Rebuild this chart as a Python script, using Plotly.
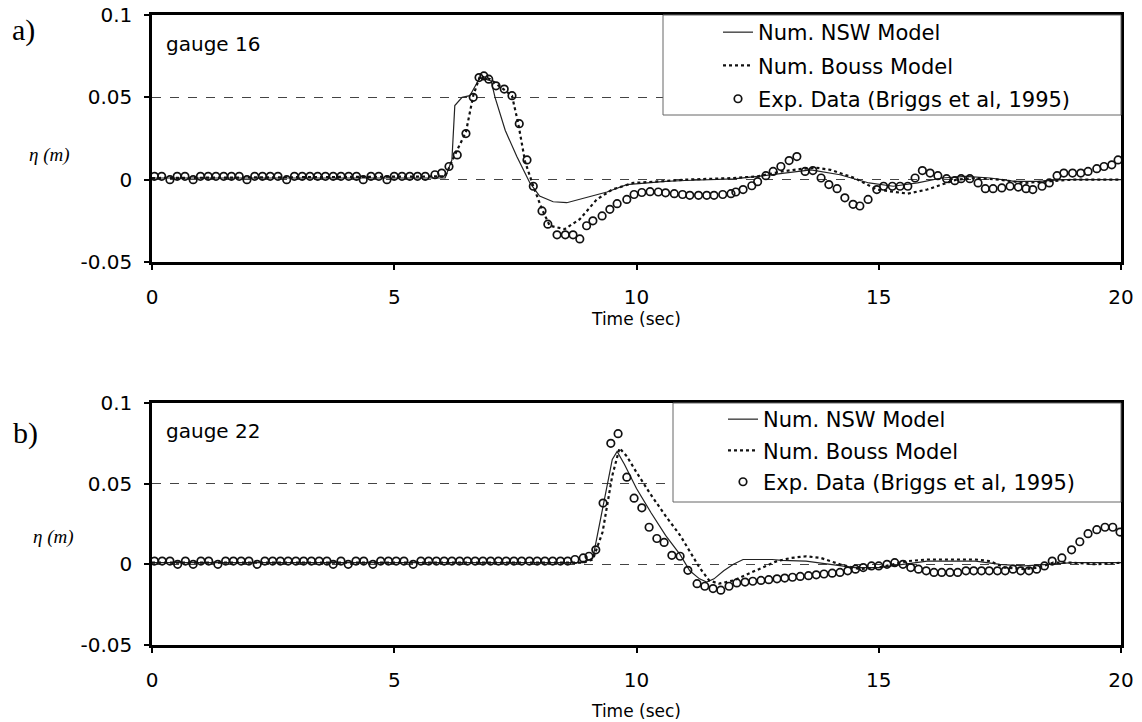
import plotly.graph_objects as go

# ---------------- Panel a) gauge 16 ----------------
nsw_a_t = [0, 6.05, 6.19, 6.25, 6.4, 6.56, 6.77, 7.0, 7.08, 7.29, 7.53, 7.8, 8.0, 8.28, 8.56,
           8.98, 9.39, 9.8, 10.2, 10.6, 11.0, 11.5, 12.0, 12.5, 13.0, 13.6, 14.2, 14.8, 15.3,
           15.8, 16.3, 16.8, 17.3, 17.8, 18.3, 18.8, 19.4, 20.0]
nsw_a_v = [0.001, 0.001, 0.012, 0.045, 0.05, 0.051, 0.062, 0.06, 0.05, 0.03, 0.014, -0.002,
           -0.01, -0.0134, -0.014, -0.0105, -0.0075, -0.003, -0.002, -0.001, -0.0005, 0.0,
           0.0005, 0.002, 0.004, 0.006, 0.003, -0.002, -0.004, -0.002, 0.001, 0.002, 0.001,
           -0.001, -0.001, 0.0, 0.0, 0.0]

bouss_a_t = [0, 6.05, 6.25, 6.48, 6.63, 6.77, 6.98, 7.25, 7.43, 7.56, 7.7, 7.87, 8.05, 8.21,
             8.52, 8.83, 9.18, 9.5, 9.93, 10.5, 11.0, 11.5, 12.0, 12.5, 13.0, 13.4, 13.7, 14.0,
             14.5, 14.96, 15.3, 15.6, 16.0, 16.6, 17.0, 17.5, 18.0, 18.5, 19.0, 19.5, 20.0]
bouss_a_v = [0.001, 0.002, 0.015, 0.029, 0.051, 0.063, 0.061, 0.055, 0.051, 0.034, 0.011,
             -0.004, -0.018, -0.028, -0.030, -0.024, -0.012, -0.006, -0.002, -0.001, 0.0,
             0.0005, 0.001, 0.002, 0.005, 0.0065, 0.0073, 0.006, 0.001, -0.006, -0.0075,
             -0.0085, -0.006, 0.0, 0.001, 0.0, -0.002, -0.001, 0.0, 0.0, 0.0]

exp_a_t = [0.05, 0.2, 0.37, 0.52, 0.68, 0.85, 1.0, 1.16, 1.32, 1.48, 1.64, 1.8, 1.96, 2.12,
           2.28, 2.44, 2.6, 2.78, 2.94, 3.1, 3.26, 3.42, 3.58, 3.74, 3.9, 4.06, 4.22, 4.36,
           4.52, 4.68, 4.85, 5.0, 5.16, 5.32, 5.48, 5.64, 5.84, 5.98, 6.13, 6.3, 6.48, 6.63,
           6.75, 6.85, 6.95, 7.1, 7.27, 7.43, 7.58, 7.74, 7.87, 8.05, 8.17, 8.36, 8.53, 8.69,
           8.83, 8.97, 9.1, 9.29, 9.45, 9.6, 9.8, 9.95, 10.11, 10.28, 10.45, 10.6, 10.78,
           10.95, 11.1, 11.28, 11.45, 11.6, 11.78, 11.95, 12.05, 12.2, 12.38, 12.5, 12.67,
           12.82, 12.98, 13.15, 13.31, 13.48, 13.64, 13.81, 13.97, 14.14, 14.3, 14.47, 14.61,
           14.78, 14.96, 15.1, 15.28, 15.44, 15.6, 15.75, 15.9, 16.06, 16.22, 16.4, 16.57,
           16.7, 16.88, 17.05, 17.2, 17.36, 17.54, 17.71, 17.88, 18.04, 18.18, 18.37, 18.52,
           18.68, 18.82, 19.0, 19.17, 19.32, 19.5, 19.65, 19.81, 19.94]
exp_a_v = [0.002, 0.002, 0.0, 0.002, 0.002, 0.0, 0.002, 0.002, 0.002, 0.002, 0.002, 0.002,
           0.0, 0.002, 0.002, 0.002, 0.002, 0.0, 0.002, 0.002, 0.002, 0.002, 0.002, 0.002,
           0.002, 0.002, 0.002, 0.0, 0.002, 0.002, 0.0, 0.002, 0.002, 0.002, 0.002, 0.002,
           0.003, 0.004, 0.008, 0.015, 0.028, 0.050, 0.062, 0.063, 0.061, 0.057, 0.055, 0.051,
           0.034, 0.012, -0.004, -0.019, -0.027, -0.0335, -0.0335, -0.0335, -0.036, -0.028,
           -0.025, -0.022, -0.018, -0.0146, -0.012, -0.009, -0.0078, -0.0073, -0.0075, -0.008,
           -0.0085, -0.009, -0.0095, -0.0095, -0.0095, -0.0095, -0.009, -0.0085, -0.0075,
           -0.006, -0.0037, -0.0012, 0.0024, 0.005, 0.008, 0.0116, 0.014, 0.005, 0.0055, 0.001,
           -0.003, -0.0055, -0.011, -0.015, -0.016, -0.012, -0.006, -0.004, -0.004, -0.004,
           -0.004, 0.001, 0.0055, 0.004, 0.0024, 0.0006, -0.0006, 0.0006, 0.0006, -0.002,
           -0.0055, -0.0055, -0.005, -0.004, -0.0045, -0.0055, -0.006, -0.004, -0.002, 0.0024,
           0.004, 0.004, 0.004, 0.005, 0.0067, 0.008, 0.009, 0.012]

# ---------------- Panel b) gauge 22 ----------------
nsw_b_t = [0, 8.9, 9.1, 9.3, 9.5, 9.6, 9.75, 10.0, 10.3, 10.6, 10.9, 11.1, 11.3, 11.45, 11.6,
           11.8, 12.0, 12.2, 12.8, 13.0, 13.5, 14.0, 14.5, 15.0, 15.5, 16.0, 16.5, 17.0, 17.5,
           18.0, 18.5, 19.0, 20.0]
nsw_b_v = [0.001, 0.001, 0.004, 0.035, 0.065, 0.07, 0.062, 0.047, 0.032, 0.018, 0.006,
           -0.004, -0.009, -0.011, -0.009, -0.004, 0.0, 0.003, 0.003, 0.0025, 0.002, 0.0,
           -0.002, -0.002, 0.0, 0.002, 0.002, 0.002, 0.0, -0.001, 0.0, 0.001, 0.001]

bouss_b_t = [0, 8.9, 9.1, 9.3, 9.5, 9.65, 9.8, 10.0, 10.3, 10.6, 10.9, 11.1, 11.3, 11.5,
             11.7, 12.0, 12.3, 12.6, 12.9, 13.2, 13.5, 13.8, 14.2, 14.6, 15.0, 15.3, 15.6,
             16.0, 16.5, 17.0, 17.3, 17.6, 18.0, 18.3, 18.6, 19.0, 19.5, 20.0]
bouss_b_v = [0.001, 0.001, 0.003, 0.02, 0.055, 0.072, 0.067, 0.057, 0.043, 0.03, 0.018,
             0.008, -0.002, -0.01, -0.012, -0.01, -0.006, -0.002, 0.002, 0.004, 0.005, 0.004,
             0.0, -0.003, -0.002, 0.0, 0.002, 0.003, 0.003, 0.003, 0.002, -0.002, -0.003,
             -0.002, 0.001, 0.001, 0.0, 0.001]

exp_b_t = [0.05, 0.21, 0.37, 0.53, 0.69, 0.85, 1.01, 1.17, 1.36, 1.52, 1.68, 1.84, 2.0, 2.17,
           2.33, 2.49, 2.65, 2.81, 2.97, 3.13, 3.29, 3.45, 3.61, 3.74, 3.9, 4.05, 4.21, 4.37,
           4.56, 4.72, 4.88, 5.04, 5.2, 5.39, 5.55, 5.71, 5.87, 6.03, 6.19, 6.35, 6.51, 6.67,
           6.83, 6.99, 7.15, 7.31, 7.47, 7.63, 7.79, 7.95, 8.11, 8.27, 8.43, 8.58, 8.73, 8.9,
           9.02, 9.16, 9.31, 9.47, 9.62, 9.8, 9.95, 10.11, 10.26, 10.42, 10.57, 10.73, 10.9,
           11.06, 11.25, 11.41, 11.58, 11.74, 11.91, 12.07, 12.24, 12.4, 12.57, 12.73, 12.9,
           13.06, 13.22, 13.38, 13.55, 13.71, 13.87, 14.04, 14.2, 14.36, 14.52, 14.68, 14.85,
           15.0, 15.17, 15.33, 15.5, 15.66, 15.82, 15.98, 16.14, 16.3, 16.47, 16.63, 16.8,
           16.96, 17.12, 17.28, 17.45, 17.61, 17.77, 17.93, 18.1, 18.26, 18.42, 18.58, 18.78,
           18.98, 19.15, 19.32, 19.5, 19.67, 19.83, 19.98]
exp_b_v = [0.002, 0.002, 0.002, 0.0, 0.002, 0.0, 0.002, 0.002, 0.0, 0.002, 0.002, 0.002,
           0.002, 0.0, 0.002, 0.002, 0.002, 0.002, 0.002, 0.002, 0.002, 0.002, 0.002, 0.0,
           0.002, 0.0, 0.002, 0.002, 0.0, 0.002, 0.002, 0.002, 0.002, 0.0, 0.002, 0.002,
           0.002, 0.002, 0.002, 0.002, 0.002, 0.002, 0.002, 0.002, 0.002, 0.002, 0.002, 0.002,
           0.002, 0.002, 0.002, 0.002, 0.002, 0.002, 0.003, 0.004, 0.005, 0.009, 0.038, 0.075,
           0.081, 0.054, 0.041, 0.035, 0.023, 0.016, 0.0136, 0.0056, 0.005, -0.0037, -0.012,
           -0.0136, -0.015, -0.016, -0.0136, -0.0115, -0.011, -0.0105, -0.01, -0.0095, -0.009,
           -0.0085, -0.008, -0.0075, -0.007, -0.0065, -0.006, -0.0055, -0.005, -0.004, -0.003,
           -0.002, -0.001, -0.001, 0.0, 0.001, 0.0, -0.002, -0.003, -0.004, -0.005, -0.005,
           -0.005, -0.005, -0.004, -0.004, -0.004, -0.004, -0.004, -0.004, -0.003, -0.004,
           -0.004, -0.003, -0.001, 0.002, 0.004, 0.009, 0.014, 0.019, 0.0215, 0.023, 0.023,
           0.02]

x_ticks = [0, 5, 10, 15, 20]
y_ticks = [-0.05, 0, 0.05, 0.1]
y_ticktext = ["-0.05", "0", "0.05", "0.1"]
legend_names = ["Num. NSW Model", "Num. Bouss Model", "Exp. Data (Briggs et al, 1995)"]

W, H = 1142, 722
FONT = "DejaVu Sans, Arial, sans-serif"
SERIF = "Liberation Serif, Times New Roman, serif"


def px_x(p):
    return p / W


def px_y(p):
    return 1 - p / H


fig = go.Figure()

panels = [
    dict(xa="x", ya="y", leg="legend", nsw=(nsw_a_t, nsw_a_v), bouss=(bouss_a_t, bouss_a_v),
         exp=(exp_a_t, exp_a_v), tag="a"),
    dict(xa="x2", ya="y2", leg="legend2", nsw=(nsw_b_t, nsw_b_v), bouss=(bouss_b_t, bouss_b_v),
         exp=(exp_b_t, exp_b_v), tag="b"),
]

for p in panels:
    fig.add_trace(go.Scatter(x=p["nsw"][0], y=p["nsw"][1], mode="lines", name=legend_names[0],
                             line=dict(color="#222222", width=1.2), xaxis=p["xa"], yaxis=p["ya"],
                             legend=p["leg"], legendgroup=p["tag"] + "1"))
    fig.add_trace(go.Scatter(x=p["bouss"][0], y=p["bouss"][1], mode="lines", name=legend_names[1],
                             line=dict(color="#111111", width=2.2, dash="dot"), xaxis=p["xa"],
                             yaxis=p["ya"], legend=p["leg"], legendgroup=p["tag"] + "2"))
    fig.add_trace(go.Scatter(x=p["exp"][0], y=p["exp"][1], mode="markers", name=legend_names[2],
                             marker=dict(symbol="circle-open", size=7.5, color="#111111",
                                         line=dict(width=1.7, color="#111111")),
                             xaxis=p["xa"], yaxis=p["ya"], legend=p["leg"],
                             legendgroup=p["tag"] + "3"))

xdom = [px_x(152), px_x(1121)]


def x_axis(standoff):
    return dict(range=[0, 20], tickvals=x_ticks, ticks="outside", ticklen=5, tickwidth=1.5,
                tickcolor="black", showline=True, linewidth=2.5, linecolor="black", mirror=True,
                showgrid=False, zeroline=False,
                tickfont=dict(family=FONT, size=20, color="black"),
                ticklabelstandoff=10, automargin=False,
                title=dict(text="Time (sec)", font=dict(family=FONT, size=17, color="black"),
                           standoff=standoff))


common_y = dict(range=[-0.05, 0.1], tickvals=y_ticks, ticktext=y_ticktext, ticks="outside",
                ticklen=5, tickwidth=1.5, tickcolor="black", showline=True, linewidth=2.5,
                linecolor="black", mirror=True, showgrid=True, gridcolor="#444444", gridwidth=1,
                griddash="dash", zeroline=False,
                tickfont=dict(family=FONT, size=20, color="black"), ticklabelstandoff=8,
                automargin=False)

fig.update_layout(
    width=W, height=H, autosize=False,
    margin=dict(l=0, r=0, t=0, b=0),
    paper_bgcolor="white", plot_bgcolor="white",
    xaxis=dict(domain=xdom, anchor="y", **x_axis(4)),
    yaxis=dict(domain=[px_y(262), px_y(15)], anchor="x", **common_y),
    xaxis2=dict(domain=xdom, anchor="y2", **x_axis(15)),
    yaxis2=dict(domain=[px_y(645), px_y(403)], anchor="x2", **common_y),
    legend=dict(x=px_x(718), y=px_y(12), xanchor="left", yanchor="top",
                bgcolor="rgba(0,0,0,0)", borderwidth=0, tracegroupgap=3,
                font=dict(family=FONT, size=21, color="black")),
    legend2=dict(x=px_x(723), y=px_y(399), xanchor="left", yanchor="top",
                 bgcolor="rgba(0,0,0,0)", borderwidth=0, tracegroupgap=1,
                 font=dict(family=FONT, size=21, color="black")),
    showlegend=True,
)

# legend frames (opaque, thin gray)
fig.add_shape(type="rect", xref="paper", yref="paper", x0=px_x(663), x1=px_x(1121),
              y0=px_y(115), y1=px_y(15), line=dict(color="#666666", width=1),
              fillcolor="white", layer="above")
fig.add_shape(type="rect", xref="paper", yref="paper", x0=px_x(673), x1=px_x(1121),
              y0=px_y(502), y1=px_y(403), line=dict(color="#666666", width=1),
              fillcolor="white", layer="above")

annos = [
    dict(text="a)", x=px_x(10), y=px_y(30), font=dict(family=SERIF, size=30, color="black")),
    dict(text="b)", x=px_x(11), y=px_y(433), font=dict(family=SERIF, size=30, color="black")),
    dict(text="gauge 16", x=px_x(164), y=px_y(44), font=dict(family=FONT, size=20, color="black")),
    dict(text="gauge 22", x=px_x(164), y=px_y(431), font=dict(family=FONT, size=20, color="black")),
    dict(text="<i>η (m)</i>", x=px_x(27), y=px_y(155),
         font=dict(family=SERIF, size=19, color="black")),
    dict(text="<i>η (m)</i>", x=px_x(31), y=px_y(537),
         font=dict(family=SERIF, size=19, color="black")),
]
for a in annos:
    fig.add_annotation(xref="paper", yref="paper", xanchor="left", yanchor="middle",
                       showarrow=False, **a)

fig.write_html("out.html", config={"displayModeBar": False},
               post_script="document.body.style.margin='0';document.body.style.overflow='hidden';")
